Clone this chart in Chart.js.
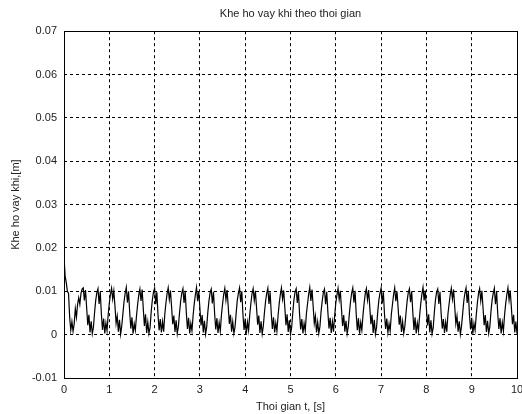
<!DOCTYPE html>
<html lang="vi">
<head>
<meta charset="UTF-8">
<title>Khe ho vay khi theo thoi gian</title>
<style>
    body { margin: 0; background: #fff; }
    #wrap { width: 522px; height: 414px; }
</style>
</head>
<body>
<div id="wrap"><canvas id="gapChart" width="522" height="414"></canvas></div>
<script src="https://cdn.jsdelivr.net/npm/chart.js"></script>
<script>
// sampled every 0.025 s from t = 0 to t = 10 s
const sampleStart = 0;
const sampleStep = 0.025;

// gap (m)
const gapStart = [0.0180,0.0135,0.0120,0.0100,0.0095,0.0040,0.0010,0.0030,0.0008,0.0025,0.0060,0.0040,0.0070,0.0085,0.0070,0.0095,0.0105];
const gapCycles = [
    0.0108,0.0079,0.0103,0.0062,0.0022,0.0046,0.0005,0.0031,0.0002,0.0017,0.0051,0.0079,0.0097,
    0.0106,0.0071,0.0099,0.0048,0.0011,0.0037,0.0003,0.0027,0.0009,0.0046,0.0072,0.0093,
    0.0107,0.0082,0.0101,0.0066,0.0026,0.0043,0.0007,0.0034,0.0001,0.0020,0.0048,0.0076,0.0095,
    0.0109,0.0074,0.0100,0.0052,0.0014,0.0040,0.0002,0.0025,0.0010,0.0043,0.0069,0.0091,
    0.0105,0.0078,0.0104,0.0060,0.0020,0.0047,0.0004,0.0029,0.0003,0.0016,0.0053,0.0080,0.0098,
    0.0107,0.0070,0.0098,0.0046,0.0010,0.0036,0.0005,0.0030,0.0007,0.0047,0.0073,0.0094,
    0.0108,0.0081,0.0102,0.0064,0.0024,0.0044,0.0006,0.0033,0.0002,0.0019,0.0050,0.0077,0.0096,
    0.0106,0.0073,0.0101,0.0051,0.0013,0.0039,0.0003,0.0026,0.0009,0.0044,0.0071,0.0092,
    0.0109,0.0077,0.0100,0.0061,0.0021,0.0045,0.0005,0.0032,0.0001,0.0018,0.0052,0.0078,0.0097,
    0.0105,0.0072,0.0099,0.0049,0.0012,0.0038,0.0004,0.0028,0.0008,0.0045,0.0070,0.0093,
    0.0107,0.0080,0.0103,0.0065,0.0025,0.0046,0.0007,0.0030,0.0003,0.0017,0.0049,0.0079,0.0096,
    0.0108,0.0075,0.0100,0.0047,0.0011,0.0037,0.0002,0.0029,0.0010,0.0046,0.0072,0.0094,
    0.0106,0.0079,0.0101,0.0063,0.0023,0.0044,0.0004,0.0031,0.0002,0.0020,0.0051,0.0077,0.0095,
    0.0107,0.0071,0.0098,0.0050,0.0013,0.0040,0.0005,0.0027,0.0008,0.0043,0.0071,0.0092,
    0.0108,0.0082,0.0102,0.0062,0.0022,0.0047,0.0006,0.0033,0.0001,0.0016,0.0050,0.0080,0.0098,
    0.0106,0.0073,0.0100,0.0048,0.0012,0.0036,0.0003,0.0026,0.0009,0.0047,0.0070,0.0093,
    0.0109,0.0078,0.0104,0.0066,0.0026,0.0043,0.0005,0.0029,0.0003,0.0019,0.0053,0.0078,0.0097,
    0.0105,0.0070,0.0099,0.0052,0.0014,0.0039,0.0004,0.0030,0.0007,0.0044,0.0073,0.0091,
    0.0107,0.0081,0.0101,0.0060,0.0020,0.0045,0.0007,0.0032,0.0002,0.0018,0.0049,0.0076,0.0096,
    0.0108,0.0074,0.0101,0.0049,0.0010,0.0038,0.0002,0.0028,0.0010,0.0045,0.0072,0.0094,
    0.0106,0.0080,0.0103,0.0064,0.0024,0.0046,0.0004,0.0034,0.0001,0.0017,0.0052,0.0079,0.0095,
    0.0107,0.0072,0.0098,0.0047,0.0013,0.0037,0.0005,0.0025,0.0008,0.0046,0.0069,0.0092,
    0.0108,0.0077,0.0100,0.0063,0.0023,0.0044,0.0006,0.0030,0.0003,0.0020,0.0050,0.0078,0.0097,
    0.0106,0.0075,0.0100,0.0051,0.0011,0.0040,0.0003,0.0027,0.0009,0.0043,0.0071,0.0093,
    0.0109,0.0079,0.0102,0.0061,0.0021,0.0047,0.0005,0.0033,0.0002,0.0016,0.0051,0.0080,0.0098,
    0.0105,0.0071,0.0099,0.0050,0.0014,0.0036,0.0004,0.0029,0.0007,0.0047,0.0070,0.0091,
    0.0107,0.0082,0.0104,0.0065,0.0025,0.0043,0.0007,0.0031,0.0001,0.0019,0.0048,0.0077,0.0096,
    0.0108,0.0073,0.0101,0.0046,0.0012,0.0039,0.0002,0.0026,0.0010,0.0044,0.0073,0.0094,
    0.0106,0.0078,0.0101,0.0062,0.0022,0.0045,0.0006,0.0032,0.0003,0.0018,0.0053,0.0079,0.0095,
    0.0107,0.0070,0.0099,0.0048,0.0013,0.0038,0.0003,0.0028,0.0008,0.0045,0.0071,0.0092,
    0.0108,0.0080,0.0102,0.0064,0.0024,0.0046,0.0005,0.0030,0.0002
];
const gapValues = gapStart.concat(gapCycles);

const xTickLabels = ['0','1','2','3','4','5','6','7','8','9','10'];
const yTickLabels = ['-0.01','0','0.01','0.02','0.03','0.04','0.05','0.06','0.07'];

const points = gapValues.map((v, i) => ({ x: sampleStart + i * sampleStep, y: v }));

const fontFamily = '"Liberation Sans", Arial, sans-serif';

// box round the plot area, like the original figure
const frameBox = {
    id: 'frameBox',
    afterDatasetsDraw(chart) {
        const a = chart.chartArea;
        const ctx = chart.ctx;
        ctx.save();
        ctx.strokeStyle = '#000';
        ctx.lineWidth = 1;
        ctx.strokeRect(Math.round(a.left) + 0.5, Math.round(a.top) + 0.5,
            Math.round(a.right - a.left), Math.round(a.bottom - a.top));
        ctx.restore();
    }
};

new Chart(document.getElementById('gapChart'), {
    type: 'line',
    data: {
        datasets: [{
            data: points,
            borderColor: '#000',
            borderWidth: 1.2,
            pointRadius: 0,
            tension: 0,
            fill: false
        }]
    },
    options: {
        responsive: false,
        animation: false,
        layout: { padding: { left: 0, right: 5, top: 0, bottom: 0 } },
        plugins: {
            legend: { display: false },
            tooltip: { enabled: false },
            title: {
                display: true,
                fullSize: false,
                text: 'Khe ho vay khi theo thoi gian',
                color: '#222',
                font: { family: fontFamily, size: 11, weight: 'normal', lineHeight: 1.2 },
                padding: { top: 7, bottom: 11 }
            }
        },
        scales: {
            x: {
                type: 'linear',
                min: 0,
                max: 10,
                afterFit(s) { s.height = 36; s.paddingLeft = 0; s.paddingRight = 0; },
                ticks: {
                    stepSize: 1,
                    maxRotation: 0,
                    color: '#222',
                    padding: 5,
                    font: { family: fontFamily, size: 11 },
                    callback: (v, i) => xTickLabels[i]
                },
                grid: { color: '#000', lineWidth: 1, drawTicks: false },
                border: { display: false, dash: [3, 3] },
                title: {
                    display: true,
                    text: 'Thoi gian t, [s]',
                    color: '#222',
                    font: { family: fontFamily, size: 11 },
                    padding: { top: 1, bottom: 0 }
                }
            },
            y: {
                type: 'linear',
                min: -0.01,
                max: 0.07,
                afterFit(s) { s.width = 64; },
                ticks: {
                    stepSize: 0.01,
                    color: '#222',
                    padding: 7,
                    font: { family: fontFamily, size: 11 },
                    callback: (v, i) => yTickLabels[i]
                },
                grid: { color: '#000', lineWidth: 1, drawTicks: false },
                border: { display: false, dash: [3, 3] },
                title: {
                    display: true,
                    text: 'Khe ho vay khi,[m]',
                    color: '#222',
                    font: { family: fontFamily, size: 11 },
                    padding: { top: 9, bottom: 4 }
                }
            }
        }
    },
    plugins: [frameBox]
});
</script>
</body>
</html>
